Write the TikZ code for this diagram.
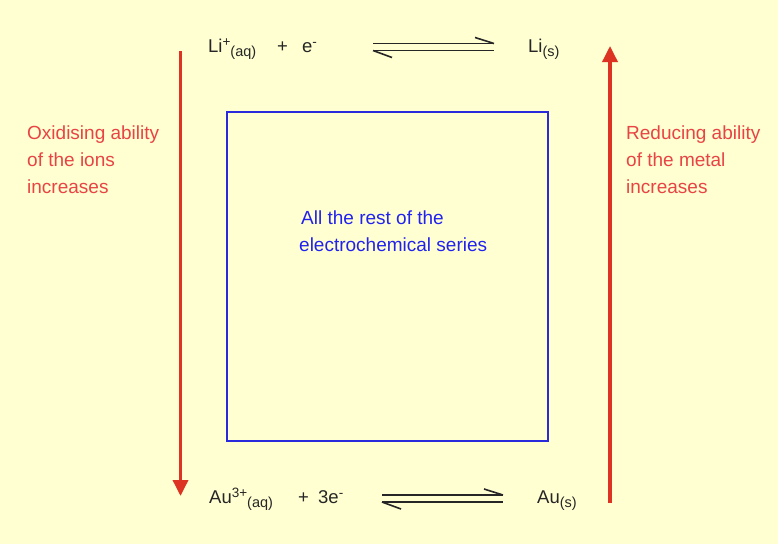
\documentclass[tikz,border=0pt]{standalone}
\usepackage{fontspec}
\setmainfont{Liberation Sans}
\usetikzlibrary{arrows.meta}
\definecolor{bgc}{HTML}{FFFFD2}
\definecolor{arrred}{HTML}{DD3322}
\definecolor{txtred}{HTML}{E84444}
\definecolor{boxblue}{HTML}{2A2ADD}
\definecolor{txtblue}{HTML}{2222EE}
\newcommand\chemsub[1]{\raisebox{-4pt}{\fontsize{14.5}{14.5}\selectfont #1}}
\newcommand\chemsup[1]{\raisebox{6pt}{\fontsize{13.5}{13.5}\selectfont #1}}
\begin{document}
\begin{tikzpicture}[x=1pt,y=-1pt,
  eq/.style={anchor=base west,inner sep=0pt,font=\fontsize{18.5}{18.5}\selectfont,text=black!85},
  lbl/.style={anchor=north west,align=left,inner sep=0pt,font=\fontsize{19}{27}\selectfont,text=txtred},
  redarrow/.style={draw=arrred,line width=3.5pt,-{Triangle[length=16pt,width=15pt]}},
  eqline/.style={draw=black!85,line width=1.8pt},
  halfhead/.style={draw=black!85,line width=1.6pt}]
\fill[bgc] (0,0) rectangle (778,544);
\useasboundingbox (0,0) rectangle (778,544);
% top equilibrium
\node[eq] (li) at (208,52) {Li\chemsup{+}\chemsub{(aq)}};
\node[eq] (plus1) at (277,52) {+};
\node[eq] (e1) at (302,52) {e\chemsup{-}};
\node[eq] (lis) at (528,52) {Li\chemsub{(s)}};
\coordinate (t1a) at (373,43.5);
\coordinate (t1b) at (494,43.5);
\coordinate (t2a) at (373,50.5);
\coordinate (t2b) at (494,50.5);
\draw[eqline] (t1a) -- (t1b);
\draw[eqline] (t2a) -- (t2b);
\draw[halfhead] (t1b) -- ++(-19,-6);
\draw[halfhead] (t2a) -- ++(19,7);
% bottom equilibrium
\node[eq] (au) at (209,503) {Au\chemsup{3+}\chemsub{(aq)}};
\node[eq] (plus2) at (298,503) {+};
\node[eq] (e3) at (318,503) {3e\chemsup{-}};
\node[eq] (aus) at (537,503) {Au\chemsub{(s)}};
\coordinate (b1a) at (382,495);
\coordinate (b1b) at (503,495);
\coordinate (b2a) at (382,502);
\coordinate (b2b) at (503,502);
\draw[eqline] (b1a) -- (b1b);
\draw[eqline] (b2a) -- (b2b);
\draw[halfhead] (b1b) -- ++(-19,-6);
\draw[halfhead] (b2a) -- ++(19,7);
% red arrows
\coordinate (la) at (180.5,51);
\coordinate (lb) at (180.5,496);
\draw[redarrow] (la) -- (lb);
\coordinate (ra) at (610,503);
\coordinate (rb) at (610,46);
\draw[redarrow] (ra) -- (rb);
% labels
\node[lbl] (oxid) at (27,126) {Oxidising ability\\of the ions\\increases};
\node[lbl] (red) at (626,126) {Reducing ability\\of the metal\\increases};
% box
\node[draw=boxblue,line width=1.5pt,minimum width=321pt,minimum height=329pt,inner sep=0pt,anchor=north west] (box) at (226,111) {};
\node[anchor=north west,align=left,inner sep=0pt,font=\fontsize{19}{27}\selectfont,text=txtblue] (rest) at (299,211) {\hspace{2pt}All the rest of the\\electrochemical series};
\end{tikzpicture}
\end{document}
